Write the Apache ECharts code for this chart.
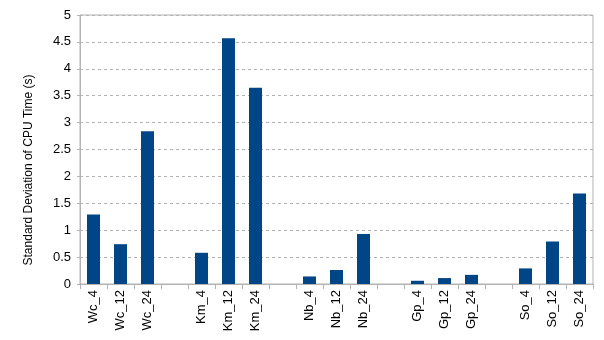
<!DOCTYPE html>
<html><head><meta charset="utf-8">
<script src="https://cdn.jsdelivr.net/npm/echarts@6/dist/echarts.min.js"></script>
<style>html,body{margin:0;padding:0;background:#fff}#c{width:604px;height:340px}</style>
</head><body><div id="c"></div>
<script>
const categories = ['Wc_4','Wc_12','Wc_24','','Km_4','Km_12','Km_24','','Nb_4','Nb_12','Nb_24','','Gp_4','Gp_12','Gp_24','','So_4','So_12','So_24'];
const values = [1.29,0.74,2.84,null,0.58,4.57,3.65,null,0.14,0.26,0.93,null,0.06,0.11,0.17,null,0.29,0.79,1.68];
const yTitle = 'Standard Deviation of CPU Time (s)';
const chart = echarts.init(document.getElementById('c'), null, {renderer:'canvas'});
chart.setOption({
  animation:false,
  backgroundColor:'#fff',
  grid:{left:80,right:11,top:15,bottom:56,show:true,borderColor:'#b3b3b3',borderWidth:1,backgroundColor:'transparent'},
  graphic:[{type:'text',x:29,y:170,rotation:Math.PI/2,
    style:{text:yTitle,fontFamily:'Liberation Sans',fontSize:12,fill:'#000',align:'center',verticalAlign:'middle'}}],
  xAxis:{type:'category',data:categories,boundaryGap:true,
    axisLine:{lineStyle:{color:'#b3b3b3'}},
    axisTick:{show:true,length:5,alignWithLabel:false,interval:0,lineStyle:{color:'#b3b3b3'}},
    axisLabel:{rotate:90,interval:0,fontFamily:'Liberation Sans',fontSize:13,color:'#000',margin:6}},
  yAxis:{type:'value',min:0,max:5,interval:0.5,
    axisLine:{show:true,lineStyle:{color:'#b3b3b3'}},
    axisTick:{show:true,length:3,lineStyle:{color:'#b3b3b3'}},
    axisLabel:{fontFamily:'Liberation Sans',fontSize:13,color:'#000',margin:9},
    splitLine:{show:true,lineStyle:{color:'#b3b3b3',type:[3,3]}}},
  series:[{type:'bar',data:values,barWidth:13,itemStyle:{color:'#004586'}}]
});
</script></body></html>
